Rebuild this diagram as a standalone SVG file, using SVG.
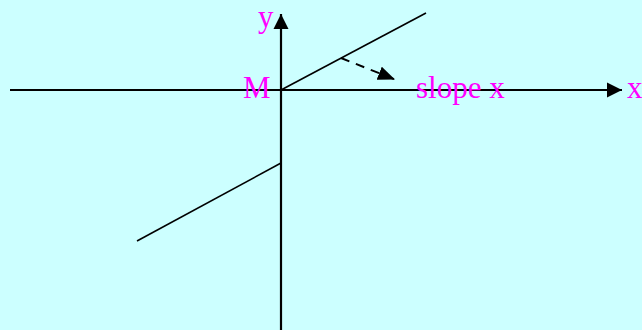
<svg xmlns="http://www.w3.org/2000/svg" width="642" height="330" viewBox="0 0 642 330">
<defs>
<style>
.ax{stroke:#000;stroke-width:2.2;fill:none}
.ln{stroke:#000;stroke-width:1.6;fill:none}
.lbl{font-family:"Liberation Serif","Times New Roman",serif;font-size:31px;fill:#FF00FF}
</style>
<marker id="ah" viewBox="0 0 10 10" refX="10" refY="5" markerWidth="7" markerHeight="7" markerUnits="strokeWidth" orient="auto">
<path d="M0,0 L10,5 L0,10 Z" fill="#000"/>
</marker>
<marker id="ahd" viewBox="0 0 10 10" refX="10" refY="5" markerWidth="17" markerHeight="14" markerUnits="userSpaceOnUse" orient="auto" preserveAspectRatio="none">
<path d="M0,0 L10,5 L0,10 Z" fill="#000"/>
</marker>
</defs>
<rect width="642" height="330" fill="#CCFFFF"/>
<g id="connectors">
<line class="ax" x1="10" y1="90" x2="622" y2="90" marker-end="url(#ah)"/>
<line class="ax" x1="281" y1="330" x2="281" y2="14" marker-end="url(#ah)"/>
<line class="ln" x1="281" y1="90" x2="426" y2="13"/>
<line class="ln" x1="137" y1="241" x2="281" y2="163"/>
<line class="ln" x1="341" y1="58" x2="395" y2="79.5" stroke-dasharray="9,7" marker-end="url(#ahd)" style="stroke-width:2"/>
</g>
<g id="label-y"><text class="lbl" x="258" y="27">y</text></g>
<g id="label-M"><text class="lbl" x="243" y="98">M</text></g>
<g id="label-slope"><text class="lbl" x="416" y="98">slope x</text></g>
<g id="label-x"><text class="lbl" x="627" y="98">x</text></g>
</svg>
